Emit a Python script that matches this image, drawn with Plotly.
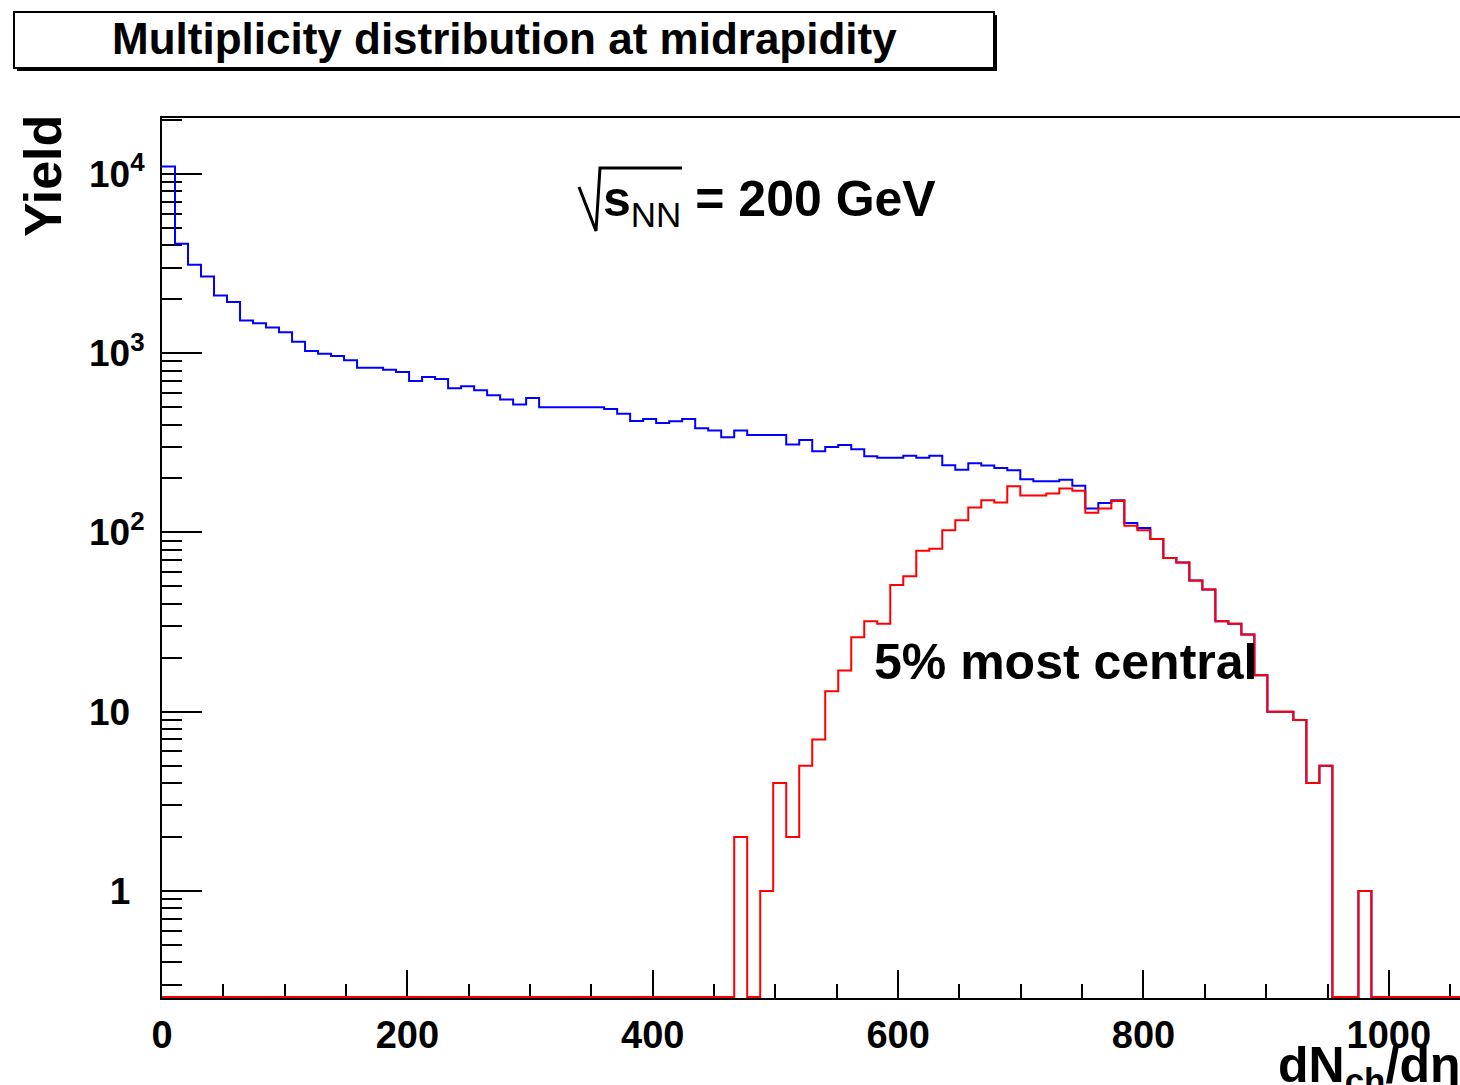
import plotly.graph_objects as go

# ---------------- data ----------------
BIN_WIDTH = 10.6
N_BINS = 100
bin_edges = [round(i * BIN_WIDTH, 2) for i in range(N_BINS + 1)]

all_events = [11000, 4080, 3110, 2680, 2100, 1930, 1520, 1470, 1390, 1310,
              1160, 1030, 994, 965, 912, 830, 830, 809, 786, 700,
              737, 718, 637, 653, 621, 582, 551, 517, 563, 500,
              500, 500, 500, 500, 489, 460, 419, 430, 408, 417,
              430, 381, 371, 340, 371, 350, 350, 350, 309, 328,
              284, 300, 308, 291, 266, 261, 261, 268, 261, 268,
              237, 224, 243, 236, 229, 222, 198, 193, 193, 197,
              182, 136, 146, 151, 113, 106, 92, 72, 68, 54,
              48, 32, 31, 27, 16, 10, 10, 9, 4, 5,
              0, 0, 1, 0, 0, 0, 0, 0, 0, 0]

central_5pct = [0] * 44 + [2, 0, 1, 4, 2, 5, 7, 13, 17, 26,
                           32, 31, 51, 57, 79, 81, 103, 117, 138, 151,
                           147, 181, 161, 161, 165, 176, 171, 129, 136, 150,
                           109, 103, 92, 72, 68, 54, 48, 32, 31, 27,
                           16, 10, 10, 9, 4, 5, 0, 0, 1, 0] + [0] * 6

x_tick_vals = [0, 200, 400, 600, 800, 1000]
y_tick_vals = [1, 10, 100, 1000, 10000]
y_tick_text = ["1<sup>\u00a0\u00a0</sup>", "10<sup>\u00a0\u00a0</sup>",
               "10<sup>2</sup>", "10<sup>3</sup>", "10<sup>4</sup>"]
y_minor_vals = [m * 10 ** e for e in range(-1, 5) for m in range(2, 10)
                if 0.25 < m * 10 ** e < 20500]

X_RANGE = [0, 1058]
Y_RANGE_LOG = [-0.597, 4.312]

# ---------------- helpers ----------------
W, H = 1460, 1085
L, R, T, B = 162, 1460, 118, 998
FONT = "Liberation Sans, Arial, Helvetica, sans-serif"


def px_x(px):
    return (px - L) / (R - L)


def px_y(py):
    return (B - py) / (B - T)


floor_val = 10 ** (Y_RANGE_LOG[0] + 0.006)


def step_y(vals):
    v = [val if val > 0 else floor_val for val in vals]
    return v + [v[-1]]


fig = go.Figure()
fig.add_trace(go.Scatter(x=bin_edges, y=step_y(all_events), mode="lines",
                         line=dict(shape="hv", color="#0000ff", width=2),
                         showlegend=False, hoverinfo="skip"))
fig.add_trace(go.Scatter(x=bin_edges, y=step_y(central_5pct), mode="lines",
                         line=dict(shape="hv", color="#ff0000", width=2),
                         showlegend=False, hoverinfo="skip"))
# dummy trace to carry the minor-tick overlay axis
fig.add_trace(go.Scatter(x=[500], y=[1], yaxis="y2", mode="markers",
                         marker=dict(opacity=0), showlegend=False,
                         hoverinfo="skip"))

fig.update_layout(
    width=W, height=H,
    margin=dict(l=L, r=W - R, t=T, b=H - B, pad=0),
    paper_bgcolor="white", plot_bgcolor="white",
    font=dict(family=FONT, color="black"),
    xaxis=dict(range=X_RANGE, showgrid=False, zeroline=False,
               showline=True, linecolor="black", linewidth=2, mirror=True,
               ticks="inside", ticklen=28, tickwidth=2, tickcolor="black",
               tickvals=x_tick_vals,
               tickfont=dict(size=38, family=FONT, weight="bold"),
               ticklabelstandoff=2,
               minor=dict(dtick=50, ticks="inside", ticklen=14,
                          tickwidth=2, tickcolor="black", showgrid=False),
               layer="below traces"),
    yaxis=dict(type="log", range=Y_RANGE_LOG, showgrid=False, zeroline=False,
               showline=True, linecolor="black", linewidth=2,
               ticks="inside", ticklen=40, tickwidth=2, tickcolor="black",
               tickvals=y_tick_vals, ticktext=y_tick_text,
               tickfont=dict(size=37, family=FONT, weight="bold"),
               ticklabelstandoff=8, layer="below traces"),
    yaxis2=dict(type="log", range=Y_RANGE_LOG, overlaying="y", side="left",
                anchor="x", showgrid=False, zeroline=False, showline=False,
                ticks="inside", ticklen=20, tickwidth=2, tickcolor="black",
                tickvals=y_minor_vals, showticklabels=False,
                layer="below traces"),
)

shapes = [
    # title box shadow and box
    dict(type="rect", xref="paper", yref="paper",
         x0=px_x(17), x1=px_x(997), y0=px_y(71), y1=px_y(15),
         fillcolor="black", line=dict(width=0)),
    dict(type="rect", xref="paper", yref="paper",
         x0=px_x(14), x1=px_x(994), y0=px_y(68), y1=px_y(12),
         fillcolor="white", line=dict(color="black", width=2)),
    # square-root sign
    dict(type="path", xref="paper", yref="paper",
         path="M {:.5f},{:.5f} L {:.5f},{:.5f} L {:.5f},{:.5f} L {:.5f},{:.5f}".format(
             px_x(579), px_y(187), px_x(596), px_y(231),
             px_x(600), px_y(168), px_x(682), px_y(168)),
         line=dict(color="black", width=3)),
]
fig.update_layout(shapes=shapes)

annotations = [
    dict(text="<b>Multiplicity distribution at midrapidity</b>",
         x=px_x(504), y=px_y(38), xanchor="center", yanchor="middle",
         font=dict(size=44, family=FONT, color="black")),
    dict(text="<b>s</b><sub>NN</sub><b> = 200 GeV</b>",
         x=px_x(601), y=px_y(202), xanchor="left", yanchor="middle",
         font=dict(size=50, family=FONT, color="black")),
    dict(text="<b>5% most central</b>",
         x=px_x(872), y=px_y(662), xanchor="left", yanchor="middle",
         font=dict(size=50, family=FONT, color="black")),
    dict(text="<b>Yield</b>", textangle=-90,
         x=px_x(43), y=px_y(176), xanchor="center", yanchor="middle",
         font=dict(size=52, family=FONT, color="black")),
    dict(text="<b>dN<sub>ch</sub>/d\u03b7</b>",
         x=px_x(1276), y=px_y(1068), xanchor="left", yanchor="middle",
         font=dict(size=50, family=FONT, color="black")),
]
for a in annotations:
    a.update(xref="paper", yref="paper", showarrow=False)
fig.update_layout(annotations=annotations)

fig.write_html("out.html")
